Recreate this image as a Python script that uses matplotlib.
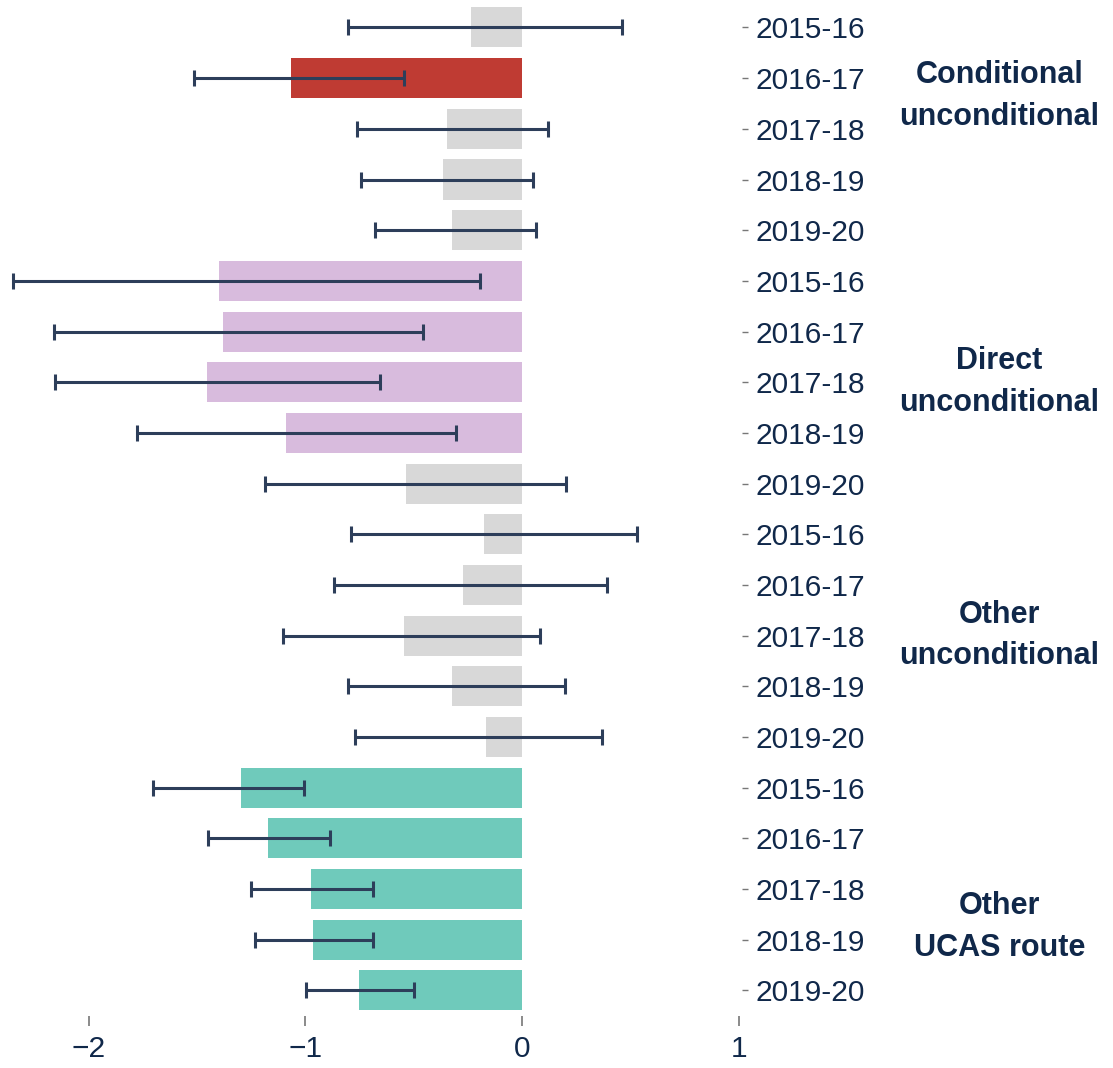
import matplotlib
matplotlib.use("Agg")
import matplotlib.pyplot as plt
import numpy as np

plt.rcParams['font.family'] = ['Liberation Sans', 'DejaVu Sans']

# data, top to bottom
years = ['2015-16', '2016-17', '2017-18', '2018-19', '2019-20'] * 4
groups = ['Conditional\nunconditional', 'Direct\nunconditional',
          'Other\nunconditional', 'Other\nUCAS route']
group_of_row = [0] * 5 + [1] * 5 + [2] * 5 + [3] * 5

values = [-0.235, -1.066, -0.346, -0.366, -0.325,
          -1.398, -1.379, -1.456, -1.089, -0.537,
          -0.175, -0.272, -0.545, -0.323, -0.166,
          -1.297, -1.175, -0.974, -0.967, -0.755]
lower = [-0.805, -1.514, -0.762, -0.743, -0.678,
         -2.350, -2.162, -2.157, -1.777, -1.188,
         -0.790, -0.868, -1.103, -0.803, -0.771,
         -1.703, -1.451, -1.251, -1.232, -0.999]
upper = [0.460, -0.545, 0.120, 0.051, 0.063,
         -0.193, -0.457, -0.655, -0.305, 0.203,
         0.530, 0.392, 0.083, 0.198, 0.369,
         -1.006, -0.888, -0.687, -0.687, -0.501]
significant = [False, True, False, False, False,
               True, True, True, True, False,
               False, False, False, False, False,
               True, True, True, True, True]

group_colors = ['#bf3b33', '#d8bbdd', '#d8d8d8', '#6fcabb']
grey = '#d8d8d8'
navy = '#10284a'
err_col = '#2d3e5a'

colors = [group_colors[g] if s else grey for g, s in zip(group_of_row, significant)]
y = np.arange(len(values))

fig = plt.figure(figsize=(11.13, 10.68), dpi=100)
ax = fig.add_axes([0.0, 0.049, 0.6667, 0.949])

ax.barh(y, values, height=0.79, color=colors, zorder=1)
vals = np.array(values)
xerr = np.array([vals - np.array(lower), np.array(upper) - vals])
ax.errorbar(vals, y, xerr=xerr, fmt='none', ecolor=err_col, elinewidth=2.2,
            capsize=6, capthick=2.2, zorder=2)

ax.set_xlim(-2.41, 1.015)
ax.set_ylim(len(values) - 0.5, -0.5)
ax.set_xticks([-2, -1, 0, 1])
ax.set_xticklabels(['\u22122', '\u22121', '0', '1'])
ax.set_yticks(y)
ax.set_yticklabels(years)
ax.yaxis.tick_right()
ax.tick_params(axis='y', length=4.5, width=1, color='#777777', pad=5,
               labelsize=21.5, labelcolor=navy)
ax.tick_params(axis='x', length=7, width=1.2, color='#777777', pad=7,
               labelsize=21.5, labelcolor=navy)
for s in ax.spines.values():
    s.set_visible(False)

# group labels
label_rows = [1.35, 7, 12, 17.75]
for name, r in zip(groups, label_rows):
    ax.annotate(name, xy=(0.898, r), xycoords=('figure fraction', 'data'),
                ha='center', va='center', fontsize=22, fontweight='bold',
                color=navy, linespacing=1.5, annotation_clip=False)

fig.savefig('out.png', dpi=100)
